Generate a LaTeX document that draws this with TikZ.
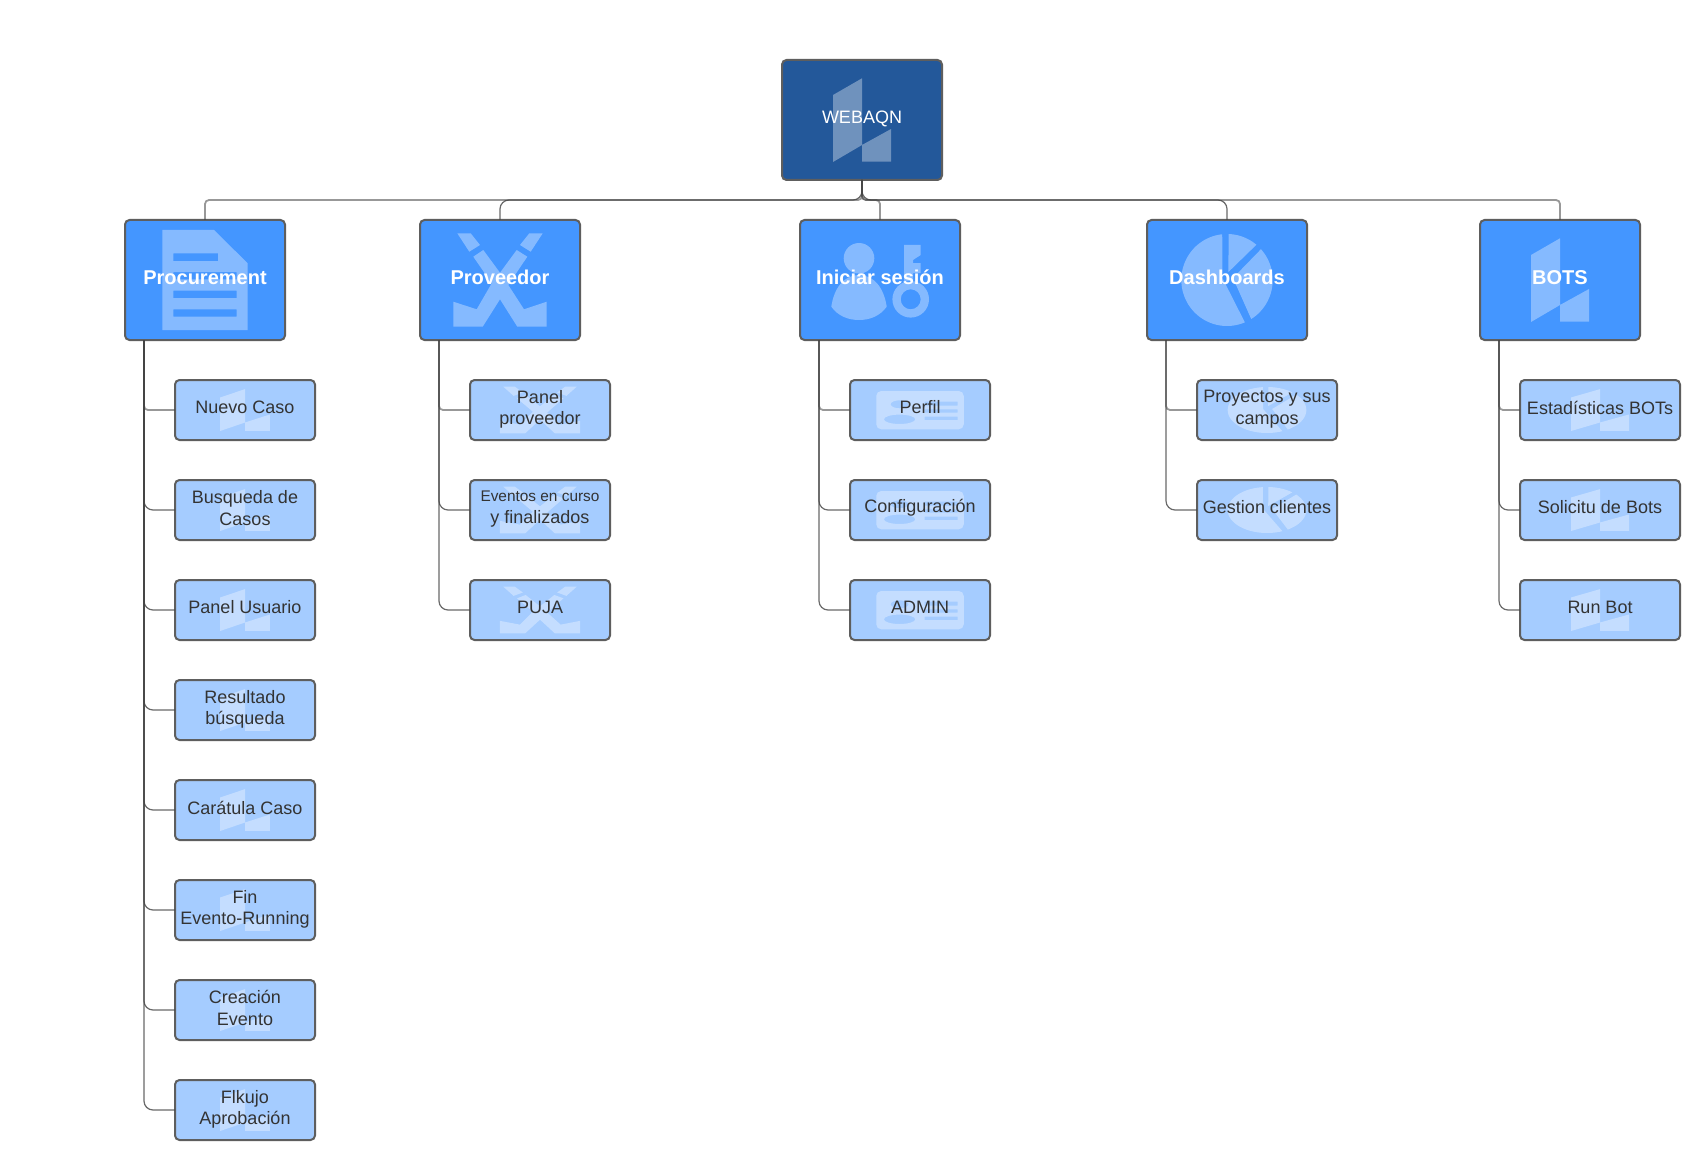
\documentclass[tikz,border=0pt]{standalone}
\usepackage{fontspec}
\setmainfont{Liberation Sans}
\usetikzlibrary{calc}
\definecolor{rootfill}{HTML}{23589A}
\definecolor{onefill}{HTML}{4496FF}
\definecolor{twofill}{HTML}{A5CCFF}
\definecolor{edgeclr}{HTML}{5E5E5E}
\definecolor{lineclr}{HTML}{444444}
\definecolor{inkclr}{HTML}{333333}
\newcommand{\iconlogo}{%
  \fill[iconfill] (-29,-25) -- (0,-41.7) -- (0,25) -- (-29,42) -- cycle
    (0,25) -- (29,9) -- (29,41.7) -- (0,41.7) -- cycle;}
\newcommand{\icondoc}{%
  \fill[iconfill,even odd rule] (-42.7,-50) -- (9,-50) -- (42.7,-16.7) -- (42.7,50) -- (-42.7,50) -- cycle
    (-31.7,-26.7) rectangle (13,-19)
    (-31.7,-8) rectangle (31.7,-0.7)
    (-31.7,10.7) rectangle (31.7,18)
    (-31.7,29.3) rectangle (31.7,36.7);}
\newcommand{\iconcross}{%
  \fill[iconfill] (-42.7,-46.7) -- (-29.3,-46.7) -- (-20,-35) -- (-30.7,-28.3) -- cycle
    (29.3,-46.7) -- (42.7,-46.7) -- (30.7,-28.3) -- (20,-35) -- cycle
    (-16.7,-30) -- (0,-7.3) -- (16.7,-30) -- (27.3,-23.3) -- (8.3,5) -- (24,29.3) -- (46.7,21.7) -- (46.7,46.7) -- (17.3,46.7) -- (0,19.3) -- (-17.3,46.7) -- (-46.7,46.7) -- (-46.7,21.7) -- (-23.3,29.3) -- (-8.3,3.3) -- (-26.7,-23.3) -- cycle;}
\newcommand{\iconperson}{%
  \fill[iconfill,even odd rule]
    (-21,-21.7) circle[radius=15.3pt]
    (-48.7,26.7) .. controls (-46,8) and (-36,-5) .. (-21,-5) .. controls (-6,-5) and (4,8) .. (6.7,26.7) .. controls (0,36) and (-10,40) .. (-21,40) .. controls (-32,40) and (-42,36) .. (-48.7,26.7) -- cycle
    (30.7,19.3) circle[radius=18.3pt]
    (30.7,19.3) circle[radius=10pt]
    (24,-35) -- (40.7,-35) -- (40.7,-25) -- (33,-20) -- (33,-17) -- (40.7,-17) -- (40.7,-7) -- (33,-7) -- (33,2) -- (24,2) -- cycle;}
\newcommand{\iconcard}{%
  \fill[iconfill,even odd rule]
    {[rounded corners=5pt] (-43.75,-19) rectangle (43.75,19.3)}
    (-20.4,-5.7) ellipse[x radius=9pt,y radius=4pt]
    (-20.4,9.3) ellipse[x radius=15.7pt,y radius=4.7pt]
    (4.6,-8.3) rectangle (37.5,-4.3)
    (4.6,-0.7) rectangle (37.5,2.7)
    (4.6,6.7) rectangle (37.5,10);}
\newcommand{\iconpie}{%
  \fill[iconfill]
    (-4.6,-2) -- plot[domain=264:67,samples=50] ({45.7*cos(\x)},{46*sin(\x)}) -- cycle
    (1.4,-8) -- plot[domain=-88:-50,samples=16] ({45.7*cos(\x)},{46*sin(\x)}) -- cycle
    (6,-2) -- plot[domain=-42:58,samples=30] ({45.7*cos(\x)},{46*sin(\x)}) -- cycle;}
\tikzset{
  x=1pt,y=-1pt,
  iconfill/.style={fill=white,fill opacity=.35,sharp corners},
  base box/.style={draw=edgeclr,line width=2pt,rounded corners=4.5pt,inner sep=0pt,outer sep=0pt},
  rootbox/.style={base box,fill=rootfill,minimum width=160pt,minimum height=120pt},
  onebox/.style={base box,fill=onefill,minimum width=160pt,minimum height=120pt},
  twobox/.style={base box,fill=twofill,minimum width=140pt,minimum height=60pt},
  widebox/.style={base box,fill=twofill,minimum width=160pt,minimum height=60pt},
  big icon/.style={path picture={\begin{scope}[shift={(path picture bounding box.center)}]#1\end{scope}}},
  small icon/.style={path picture={\begin{scope}[shift={(path picture bounding box.center)},x=.86pt,y=-.5pt]#1\end{scope}}},
  wide icon/.style={path picture={\begin{scope}[shift={(path picture bounding box.center)},x=1pt,y=-.5pt]#1\end{scope}}},
  roottext/.style={yshift=1.5pt,text=white,align=center,font=\fontsize{18}{22}\selectfont},
  onetext/.style={yshift=2.5pt,text=white,align=center,font=\fontsize{20}{24}\selectfont\bfseries},
  twotext/.style={yshift=2.5pt,text=inkclr,align=center,font=\fontsize{18}{21.5}\selectfont},
  pairtext/.style={twotext,yshift=-1.7pt},
  liftedpair/.style={twotext,yshift=-.7pt},
  firstlink/.style={draw=lineclr,draw opacity=.55,line width=1.8pt,rounded corners=4pt},
  nextlink/.style={draw=lineclr,draw opacity=.8,line width=1.2pt,rounded corners=9pt}
}
\begin{document}
\begin{tikzpicture}
\useasboundingbox[fill=white] (0,0) rectangle (1708,1161);
% root and first level
\node[rootbox,big icon=\iconlogo,label={[roottext]center:WEBAQN}] (root) at (862,120) {};
\node[onebox,big icon=\icondoc,label={[onetext]center:Procurement}] (proc) at (205,280) {};
\node[onebox,big icon=\iconcross,label={[onetext]center:Proveedor}] (prov) at (500,280) {};
\node[onebox,big icon=\iconperson,label={[onetext]center:Iniciar sesión}] (inic) at (880,280) {};
\node[onebox,big icon=\iconpie,label={[onetext]center:Dashboards}] (dash) at (1227,280) {};
\node[onebox,big icon=\iconlogo,label={[onetext]center:BOTS}] (bots) at (1560,280) {};
% Procurement children
\node[twobox,small icon=\iconlogo,label={[twotext]center:Nuevo Caso}] (pa) at (245,410) {};
\node[twobox,small icon=\iconlogo,label={[liftedpair]center:Busqueda de\\Casos}] (pb) at (245,510) {};
\node[twobox,small icon=\iconlogo,label={[twotext]center:Panel Usuario}] (pc) at (245,610) {};
\node[twobox,small icon=\iconlogo,label={[pairtext]center:Resultado\\búsqueda}] (pd) at (245,710) {};
\node[twobox,small icon=\iconlogo,label={[twotext]center:Carátula Caso}] (pe) at (245,810) {};
\node[twobox,small icon=\iconlogo,label={[pairtext]center:Fin\\Evento-Running}] (pf) at (245,910) {};
\node[twobox,small icon=\iconlogo,label={[liftedpair]center:Creación\\Evento}] (pg) at (245,1010) {};
\node[twobox,small icon=\iconlogo,label={[pairtext]center:Flkujo\\Aprobación}] (ph) at (245,1110) {};
% Proveedor children
\node[twobox,small icon=\iconcross,label={[pairtext]center:Panel\\proveedor}] (va) at (540,410) {};
\node[twobox,small icon=\iconcross,label={[pairtext]center:{\fontsize{15.4}{20}\selectfont Eventos en curso}\\y finalizados}] (vb) at (540,510) {};
\node[twobox,small icon=\iconcross,label={[twotext]center:PUJA}] (vc) at (540,610) {};
% Iniciar sesion children
\node[twobox,big icon=\iconcard,label={[twotext]center:Perfil}] (ia) at (920,410) {};
\node[twobox,big icon=\iconcard,label={[twotext]center:Configuración}] (ib) at (920,510) {};
\node[twobox,big icon=\iconcard,label={[twotext]center:ADMIN}] (ic) at (920,610) {};
% Dashboards children
\node[twobox,small icon=\iconpie,label={[pairtext]center:Proyectos y sus\\campos}] (da) at (1267,410) {};
\node[twobox,small icon=\iconpie,label={[twotext]center:Gestion clientes}] (db) at (1267,510) {};
% BOTS children
\node[widebox,wide icon=\iconlogo,label={[twotext]center:Estadísticas BOTs}] (ba) at (1600,410) {};
\node[widebox,wide icon=\iconlogo,label={[twotext]center:Solicitu de Bots}] (bb) at (1600,510) {};
\node[widebox,wide icon=\iconlogo,label={[twotext]center:Run Bot}] (bc) at (1600,610) {};
% connectors from the root
\draw[firstlink] (root.south) -- ++(0,20) -| (proc.north);
\draw[nextlink] (root.south) -- ++(0,20) -| (prov.north);
\draw[firstlink] (root.south) -- ++(0,20) -| (inic.north);
\draw[nextlink] (root.south) -- ++(0,20) -| (dash.north);
\draw[firstlink] (root.south) -- ++(0,20) -| (bots.north);
% connectors to the children
\draw[firstlink] ($(proc.south west)+(19,0)$) |- (pa.west);
\foreach \c in {pb,pc,pd,pe,pf,pg,ph} \draw[nextlink] ($(proc.south west)+(19,0)$) |- (\c.west);
\draw[firstlink] ($(prov.south west)+(19,0)$) |- (va.west);
\foreach \c in {vb,vc} \draw[nextlink] ($(prov.south west)+(19,0)$) |- (\c.west);
\draw[firstlink] ($(inic.south west)+(19,0)$) |- (ia.west);
\foreach \c in {ib,ic} \draw[nextlink] ($(inic.south west)+(19,0)$) |- (\c.west);
\draw[firstlink] ($(dash.south west)+(19,0)$) |- (da.west);
\draw[nextlink] ($(dash.south west)+(19,0)$) |- (db.west);
\draw[firstlink] ($(bots.south west)+(19,0)$) |- (ba.west);
\foreach \c in {bb,bc} \draw[nextlink] ($(bots.south west)+(19,0)$) |- (\c.west);
\end{tikzpicture}
\end{document}
